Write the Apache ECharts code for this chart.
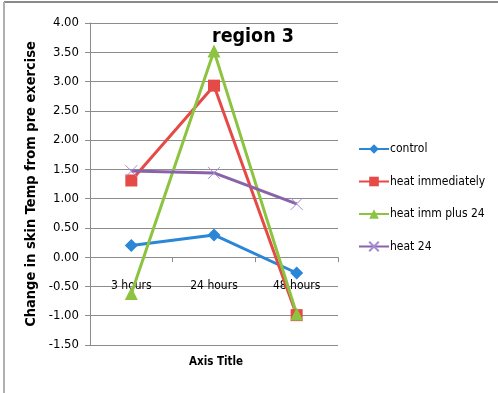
<!DOCTYPE html>
<html>
<head>
<meta charset="utf-8">
<script src="https://cdn.jsdelivr.net/npm/echarts@6/dist/echarts.min.js"></script>
<style>
  html, body { margin: 0; padding: 0; background: #fff; }
  #chart { width: 498px; height: 393px; }
</style>
</head>
<body>
<div id="chart"></div>
<script>
// Skin temperature change after exercise, by time point
const categories = ['3 hours', '24 hours', '48 hours'];
const control = [0.20, 0.38, -0.27];
const heatImmediately = [1.31, 2.93, -0.99];
const heatImmPlus24 = [-0.62, 3.52, -0.97];
const heat24 = [1.47, 1.44, 0.91];

const FONT = '"Liberation Sans Narrow", "DejaVu Sans Condensed", "Liberation Sans", sans-serif';
const GRID = '#8c8c8c';

function lineSeries(name, data, color, symbol, size, extra) {
  return Object.assign({
    name: name,
    type: 'line',
    data: data,
    symbol: symbol,
    symbolSize: size,
    showAllSymbol: true,
    lineStyle: { color: color, width: 3 },
    itemStyle: { color: color },
    emphasis: { disabled: true },
    animation: false
  }, extra || {});
}

const chart = echarts.init(document.getElementById('chart'));
chart.setOption({
  backgroundColor: '#fff',
  animation: false,
  title: [
    {
      text: 'region 3',
      left: 212, top: 27, padding: 0,
      textStyle: { fontFamily: FONT, fontSize: 19.5, fontWeight: 'bold', color: '#000' }
    },
    {
      text: 'Axis Title',
      left: 189, top: 356, padding: 0,
      textStyle: { fontFamily: FONT, fontSize: 11.5, fontWeight: 'bold', color: '#000' }
    }
  ],
  legend: {
    orient: 'vertical',
    left: 358, top: 143, padding: 0,
    itemWidth: 30, itemHeight: 12, itemGap: 20.5,
    textStyle: { fontFamily: FONT, fontSize: 12, color: '#000', padding: [0, 0, 0, -4] },
    data: ['control', 'heat immediately', 'heat imm plus 24', 'heat 24']
  },
  grid: { left: 90, right: 160, top: 23, bottom: 48, containLabel: false },
  xAxis: {
    type: 'category',
    data: categories,
    boundaryGap: true,
    axisLine: { onZero: true, lineStyle: { color: GRID, width: 1 } },
    axisTick: { show: true, length: 5, lineStyle: { color: GRID } },
    axisLabel: { margin: -65, fontFamily: FONT, fontSize: 12, color: '#000' },
    splitLine: { show: false }
  },
  yAxis: {
    type: 'value',
    min: -1.5, max: 4, interval: 0.5,
    name: 'Change in skin Temp from pre exercise',
    nameLocation: 'middle',
    nameGap: 51,
    nameRotate: 90,
    nameTextStyle: { fontFamily: FONT, fontSize: 14.5, fontWeight: 'bold', color: '#000' },
    axisLine: { show: true, lineStyle: { color: GRID, width: 1 } },
    axisTick: { show: true, length: 5, lineStyle: { color: GRID } },
    axisLabel: {
      margin: 11, fontFamily: FONT, fontSize: 13, color: '#000',
      formatter: v => v.toFixed(2)
    },
    splitLine: { show: true, lineStyle: { color: GRID, width: 1 } }
  },
  series: [
    lineSeries('control', control, '#2a86d6', 'diamond', 13),
    lineSeries('heat immediately', heatImmediately, '#e64a46', 'rect', 12),
    lineSeries('heat imm plus 24', heatImmPlus24, '#8cc340', 'triangle', 13),
    lineSeries('heat 24', heat24, '#8a62aa', 'path://M0,0L10,10M10,0L0,10', 12, {
      itemStyle: { color: '#a58bd0', borderColor: '#a58bd0', borderWidth: 1 }
    })
  ],
  graphic: [
    { type: 'line', shape: { x1: 4, y1: 2, x2: 498, y2: 2 }, style: { stroke: '#8a8a8a', lineWidth: 2 }, silent: true },
    { type: 'line', shape: { x1: 4, y1: 2, x2: 4, y2: 393 }, style: { stroke: '#b0b0b0', lineWidth: 2 }, silent: true }
  ]
});
</script>
</body>
</html>
